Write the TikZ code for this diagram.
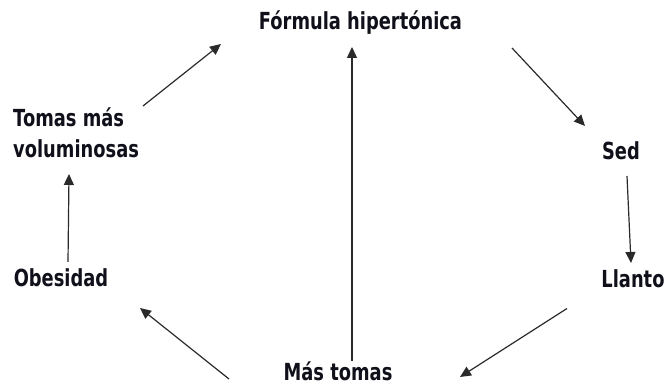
\documentclass[tikz,border=0pt]{standalone}
\usepackage{fontspec}
\usepackage{tikz}
\usetikzlibrary{arrows.meta, positioning, calc}
\newfontfamily\labelFont{DejaVu Sans}[FakeStretch=0.76]
\definecolor{textDark}{HTML}{10101A}
\definecolor{lineDark}{HTML}{2A2A2A}
\tikzset{
    % Labels
    cycleLabel/.style={inner sep=0pt, font=\labelFont\bfseries\fontsize{23.5}{31}\selectfont, text=textDark},
    % Arrows
    arrowCycle/.style={-{Triangle[length=11pt,width=10pt]}, line width=1.2pt, draw=lineDark}
}
\begin{document}
\begin{tikzpicture}[x=1pt, y=1pt]
    \useasboundingbox (0,0) rectangle (665,387);

    % Nodes of the cycle
    \node[cycleLabel, anchor=base] (formula) at (360.5,357) {Fórmula hipertónica};
    \node[cycleLabel, anchor=base] (sed) at (621,227) {Sed};
    \node[cycleLabel, anchor=base] (llanto) at (633,99) {Llanto};
    \node[cycleLabel, anchor=base] (masTomas) at (338,6) {Más tomas};
    \node[cycleLabel, anchor=base] (obesidad) at (61,100) {Obesidad};
    \node[cycleLabel, anchor=base west, align=left] (tomasVol) at (13,229) {Tomas más\\voluminosas};

    % Arrows
    \draw[arrowCycle] ([shift={(130,52)}]tomasVol.base west) -- ([shift={(-139.5,-14)}]formula.base);
    \draw[arrowCycle] ([shift={(151.5,-18)}]formula.base) -- ([shift={(-36,34)}]sed.base);
    \draw[arrowCycle] ([shift={(6,-16)}]sed.base) -- ([shift={(-2,25)}]llanto.base);
    \draw[arrowCycle] ([shift={(-66,-20.5)}]llanto.base) -- ([shift={(122,4)}]masTomas.base);
    \draw[arrowCycle] ([shift={(-109,2)}]masTomas.base) -- ([shift={(79,-21)}]obesidad.base);
    \draw[arrowCycle] ([shift={(7,25)}]obesidad.base) -- ([shift={(56,-16)}]tomasVol.base west);
    \draw[arrowCycle] ([shift={(14,20)}]masTomas.base) -- ([shift={(-8.5,-17)}]formula.base);
\end{tikzpicture}
\end{document}
